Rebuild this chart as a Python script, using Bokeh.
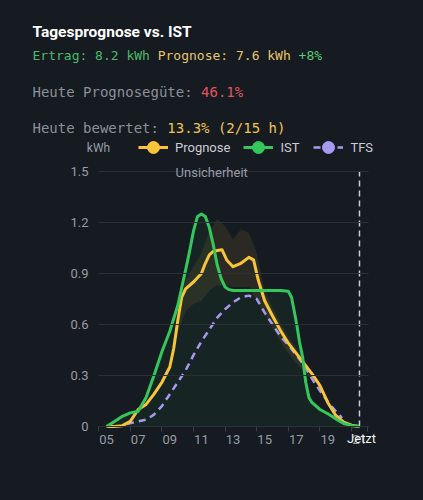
from bokeh.plotting import figure
from bokeh.models import Range1d, FixedTicker, Label, Legend, LegendItem
from bokeh.embed import file_html
from bokeh.resources import INLINE

# ---------------- data ----------------
ist_hours = [5, 5.5, 6, 6.5, 7, 7.5, 8, 8.5, 9, 9.5, 10, 10.25, 10.5, 10.75, 11, 11.25, 11.5, 11.75,
             12, 12.25, 12.5, 12.75, 13, 14, 15, 16, 16.5, 16.7, 16.85, 17.05, 17.2, 17.4, 17.6, 17.8,
             18, 18.5, 19, 19.5, 20, 20.5, 21]
ist_kwh = [0, 0.03, 0.06, 0.08, 0.09, 0.17, 0.30, 0.44, 0.56, 0.71, 0.92, 1.03, 1.15, 1.235, 1.25, 1.235,
           1.17, 1.07, 0.95, 0.87, 0.82, 0.805, 0.80, 0.80, 0.80, 0.80, 0.795, 0.76, 0.69, 0.59, 0.50,
           0.41, 0.26, 0.17, 0.14, 0.10, 0.075, 0.045, 0.018, 0.005, 0]

prog_hours = [5, 5.5, 6, 6.5, 7, 7.5, 8, 8.5, 9, 9.25, 9.5, 9.75, 10, 10.5, 11, 11.25, 11.5, 11.75, 12,
              12.3, 12.6, 13, 13.5, 14, 14.3, 14.6, 15, 15.5, 16, 16.5, 17, 17.5, 18, 18.5, 19, 19.5,
              20, 20.5, 21]
prog_kwh = [0, 0, 0.005, 0.03, 0.10, 0.13, 0.19, 0.26, 0.35, 0.46, 0.62, 0.76, 0.81, 0.85, 0.90, 0.96,
            1.01, 1.03, 1.035, 1.04, 0.98, 0.94, 0.96, 0.995, 0.98, 0.86, 0.74, 0.65, 0.565, 0.49, 0.43,
            0.37, 0.31, 0.24, 0.14, 0.065, 0.025, 0.008, 0]

tfs_hours = [6.3, 7, 7.5, 8, 8.5, 9, 9.5, 10, 10.5, 11, 11.5, 12, 12.5, 13, 13.5, 14, 14.5, 15, 15.5,
             16, 16.5, 17, 17.5, 18, 18.5, 19, 19.5, 19.9]
tfs_kwh = [0.015, 0.03, 0.04, 0.07, 0.12, 0.19, 0.26, 0.33, 0.42, 0.50, 0.57, 0.64, 0.69, 0.73, 0.76,
           0.77, 0.75, 0.67, 0.60, 0.53, 0.48, 0.42, 0.36, 0.28, 0.21, 0.145, 0.09, 0.05]

band_hours = [9, 9.5, 10, 10.5, 11, 11.5, 12, 12.5, 13, 13.5, 14, 14.5, 15, 15.5, 16, 16.5, 17, 17.5, 18]
band_low = [0.33, 0.55, 0.68, 0.72, 0.74, 0.80, 0.83, 0.83, 0.82, 0.82, 0.82, 0.74, 0.66, 0.58, 0.50,
            0.43, 0.37, 0.32, 0.28]
band_high = [0.36, 0.66, 0.86, 0.94, 1.02, 1.15, 1.22, 1.18, 1.10, 1.16, 1.14, 1.02, 0.80, 0.70, 0.61,
             0.53, 0.46, 0.39, 0.32]

x_ticks = [5, 7, 9, 11, 13, 15, 17, 19, 21]
x_tick_labels = ["05", "07", "09", "11", "13", "15", "17", "19", "21"]
y_ticks = [0, 0.3, 0.6, 0.9, 1.2, 1.5]
y_tick_labels = ["0", "0.3", "0.6", "0.9", "1.2", "1.5"]
now_hour = 21.0

title_text = "Tagesprognose vs. IST"
line1 = [("Ertrag: 8.2 kWh ", "#4cbb6c"), ("Prognose: 7.6 kWh ", "#e9c46e"), ("+8%", "#4fd073")]
line2 = [("Heute Prognosegüte: ", "#8b9099"), ("46.1%", "#e4535d")]
line3 = [("Heute bewertet: ", "#8b9099"), ("13.3% (2/15 h)", "#f1c550")]

# ---------------- styling / geometry ----------------
BG = "#161a21"
YELLOW = "#f7c43a"
GREEN = "#34c75b"
PURPLE = "#a899f0"
GREY = "#979ca5"
GRID = "#2a2f38"
MONO = "DejaVu Sans Mono"
W, H = 423, 500
# chart area in page pixels
CL, CR, CT, CB = 98, 368, 171, 426
X0, X1 = 4.49, 21.57          # hour range shown in the chart area
Y0, Y1 = 0.0, 1.5             # kWh range shown in the chart area
px_x = (CR - CL) / (X1 - X0)
px_y = (CB - CT) / (Y1 - Y0)
x_range = Range1d(X0 - CL / px_x, X1 + (W - CR) / px_x)
y_range = Range1d(Y0 - (H - CB) / px_y, Y1 + CT / px_y)

p = figure(width=W, height=H, x_range=x_range, y_range=y_range,
           output_backend="svg", toolbar_location=None, min_border=0,
           background_fill_color=BG, border_fill_color=BG, outline_line_color=None)
p.xgrid.visible = False
p.ygrid.visible = False

# x axis on the zero line
xa = p.xaxis[0]
xa.fixed_location = Y0
xa.bounds = (X0, X1)
xa.ticker = FixedTicker(ticks=x_ticks, minor_ticks=[t - 0.5 for t in x_ticks] + [x_ticks[-1] + 0.5])
xa.major_label_overrides = {t: l for t, l in zip(x_ticks, x_tick_labels)}
xa.major_tick_out = 0
xa.major_tick_in = 0
xa.minor_tick_out = 5
xa.minor_tick_in = 0
xa.minor_tick_line_color = "#3a3f48"
xa.axis_line_color = "#3a3f48"
xa.major_label_text_color = GREY
xa.major_label_text_font = "Roboto"
xa.major_label_text_font_size = "13px"
xa.major_label_standoff = 3

# y axis at the chart's left edge; its inward ticks act as the horizontal grid lines
ya = p.yaxis[0]
ya.fixed_location = X0
ya.bounds = (Y0, Y1)
ya.ticker = FixedTicker(ticks=y_ticks)
ya.major_label_overrides = {t: l for t, l in zip(y_ticks, y_tick_labels)}
ya.axis_line_color = None
ya.major_tick_out = 0
ya.major_tick_in = CR - CL
ya.major_tick_line_color = GRID
ya.major_tick_line_width = 1
ya.minor_tick_line_color = None
ya.major_label_text_color = GREY
ya.major_label_text_font = "Roboto"
ya.major_label_text_font_size = "13px"
ya.major_label_standoff = 10

# uncertainty band and yield area
p.varea(x=band_hours, y1=band_low, y2=band_high, fill_color=YELLOW, fill_alpha=0.09)
p.varea(x=ist_hours, y1=[0] * len(ist_hours), y2=ist_kwh, fill_color=GREEN, fill_alpha=0.06)

r_tfs = p.line(tfs_hours, tfs_kwh, line_color=PURPLE, line_width=2.5, line_dash="7 5")
r_prog = p.line(prog_hours, prog_kwh, line_color=YELLOW, line_width=3, line_join="round")
r_ist = p.line(ist_hours, ist_kwh, line_color=GREEN, line_width=3, line_join="round")

# hidden point markers (shown only as legend glyphs)
m_prog = p.scatter(prog_hours, prog_kwh, size=12, fill_color=YELLOW, line_color=YELLOW, visible=False)
m_ist = p.scatter(ist_hours, ist_kwh, size=12, fill_color=GREEN, line_color=GREEN, visible=False)
m_tfs = p.scatter(tfs_hours, tfs_kwh, size=12, fill_color=PURPLE, line_color=PURPLE, visible=False)

# "now" marker
p.segment(x0=[now_hour], y0=[y_ticks[0]], x1=[now_hour], y1=[y_ticks[-1]],
          line_color="#c9cdd3", line_width=1.5, line_dash="6 4")
p.add_layout(Label(x=now_hour, y=0, x_offset=2, y_offset=-12, text="Jetzt",
                   text_color="#f2f3f5", text_font="Roboto", text_font_size="13px",
                   text_align="center", text_baseline="middle"))
p.add_layout(Label(x=11.65, y=1.5, y_offset=-1, text="Unsicherheit",
                   text_color=GREY, text_font="Roboto", text_font_size="13px",
                   text_align="center", text_baseline="middle"))

# legend
items = [LegendItem(label="Prognose", renderers=[r_prog, m_prog]),
         LegendItem(label="IST", renderers=[r_ist, m_ist]),
         LegendItem(label="TFS", renderers=[r_tfs, m_tfs])]
legend = Legend(items=items, orientation="horizontal", location=(138, H - 162),
                glyph_width=30, glyph_height=30, label_standoff=7, spacing=13,
                padding=0, margin=0, border_line_color=None, background_fill_alpha=0,
                label_text_color="#c9cdd4", label_text_font="Roboto", label_text_font_size="13px")
p.add_layout(legend)

p.add_layout(Label(x=98, y=H - 147, x_units="screen", y_units="screen", text="kWh",
                   text_color=GREY, text_font="Roboto", text_font_size="12px",
                   text_align="center", text_baseline="middle"))

# header texts
p.add_layout(Label(x=32, y=H - 31, x_units="screen", y_units="screen", text=title_text,
                   text_color="#ffffff", text_font="Roboto", text_font_style="bold",
                   text_font_size="15.5px", text_baseline="middle"))


def mono_line(parts, y, size):
    cw = 0.602 * size
    n = 0
    for txt, col in parts:
        p.add_layout(Label(x=32 + n * cw, y=H - y, x_units="screen", y_units="screen", text=txt,
                           text_color=col, text_font=MONO, text_font_size=f"{size}px",
                           text_baseline="middle"))
        n += len(txt)


mono_line(line1, 55, 13)
mono_line(line2, 91, 14)
mono_line(line3, 127, 14)

html = file_html(p, INLINE)
html = html.replace("</head>", "<style>html,body{background:%s;}</style></head>" % BG, 1)
open("out.html", "w").write(html)
